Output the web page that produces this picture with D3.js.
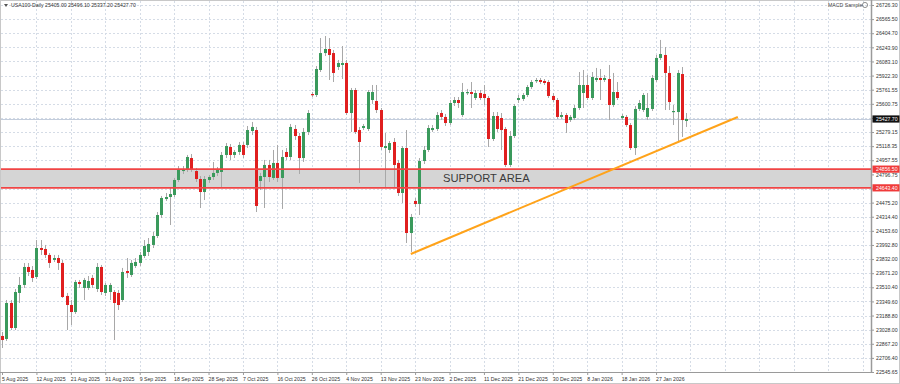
<!DOCTYPE html>
<html><head><meta charset="utf-8">
<script src="https://cdn.jsdelivr.net/npm/d3@7"></script>
<style>
body{margin:0;background:#fff}
svg{display:block;font-family:"Liberation Sans",Arial,sans-serif}
</style>
</head><body>
<svg id="c" width="900" height="384"></svg>
<script>
const symbolTitle = "USA100-Daily  25405.00 25496.10 25337.20 25427.70";
const indicatorTitle = "MACD Sample";
const opens = [22956,22922,23332,23047,23446,23537,23742,23708,23628,23958,23947,23879,23822,23844,23788,23412,23309,23229,23571,23503,
23503,23617,23491,23742,23446,23457,23457,23446,23366,23696,23651,23753,23788,23867,23913,23993,24095,24334,24516,24539,
24562,24733,24835,24847,24983,24835,24744,24596,24733,24767,24813,24824,25018,25109,25018,25052,25132,25132,25291,25302,
24722,24767,24904,24756,24927,24756,25052,24995,25314,25234,24983,25280,25712,25701,25986,26179,26225,26179,26020,26043,
26066,25496,25758,25302,25325,25314,25644,25633,25530,25097,25075,25166,24927,24585,25097,24129,24494,24460,24949,25075,
25302,25314,25496,25451,25382,25610,25644,25473,25724,25735,25667,25724,25713,25667,25200,25462,25439,25314,24904,25234,
25644,25656,25701,25792,25861,25872,25861,25849,25690,25644,25451,25473,25416,25439,25553,25724,25815,25667,25872,25895,
25872,25883,25587,25735,25439,25451,25359,25097,25542,25530,25451,25542,25872,26123,26157,25952,25507,25507,25940,25405];
const highs = [23001,23366,23366,23491,23628,23787,23787,23753,24049,24049,23993,23901,23879,23879,23822,23446,23366,23594,23594,23617,
23639,23651,23787,23765,23560,23560,23480,23480,23731,23844,23822,23844,23913,24049,24072,24141,24368,24551,24585,24642,
24756,24892,24892,25018,25029,24870,24778,24778,24790,24938,24881,25052,25154,25143,25075,25166,25166,25348,25394,25337,
24813,24961,24961,25075,25132,25075,25097,25371,25359,25268,25325,25530,25735,26031,26350,26373,26350,26214,26100,26259,
26100,25781,25781,25337,25371,25758,25815,25815,25553,25268,25177,25211,24961,25120,25302,24346,24528,24983,25120,25359,
25359,25507,25530,25485,25644,25678,25678,25838,25770,25849,25758,25758,25815,25690,25507,25507,25496,25337,25291,25599,
25701,25724,25815,25872,25895,25895,25883,25872,25724,25667,25507,25496,25473,25587,25963,25986,25929,25963,26009,25997,
25929,26043,25952,25849,25485,25473,25382,25576,25644,25724,25724,25929,26157,26328,26248,26031,25587,25986,26020,25496];
const lows = [22819,22899,23024,23024,23332,23503,23639,23571,23605,23879,23844,23731,23799,23708,23389,23024,23081,23207,23503,23366,
23480,23503,23457,23423,23412,23366,22910,23252,23343,23617,23628,23731,23753,23844,23867,23958,24072,24300,24494,24220,
24539,24710,24801,24824,24824,24710,24414,24505,24699,24733,24778,24642,24983,24961,24983,25018,24983,25097,25245,24368,
24619,24414,24710,24733,24710,24403,24961,24961,25189,24801,24938,25245,25678,25678,25963,26145,25872,25849,25986,25883,
25473,25280,25257,24699,25302,25291,25599,25496,25075,24642,25040,24642,24551,24471,24015,23913,24425,24334,24915,25052,
25280,25291,25416,25348,25359,25576,25553,25451,25701,25553,25644,25644,25587,25109,25177,25280,25075,24881,24881,25211,
25610,25633,25678,25770,25838,25826,25815,25667,25621,25428,25428,25268,25394,25416,25530,25553,25644,25644,25849,25644,
25849,25416,25564,25644,25416,25337,25075,25018,25519,25507,25416,25519,25849,26100,25530,25530,25359,25166,25223,25337];
const closes = [22910,23332,23047,23457,23537,23742,23685,23617,23958,23936,23879,23788,23844,23788,23400,23309,23229,23571,23548,23594,
23582,23537,23742,23457,23537,23537,23332,23309,23685,23674,23788,23799,23879,23981,24004,24095,24334,24528,24539,24573,
24733,24858,24858,24995,24858,24744,24596,24744,24767,24813,24847,25018,25120,25018,25052,25132,25018,25302,25337,24437,
24778,24904,24767,24927,24756,24995,24995,25337,25234,24983,25280,25496,25701,25997,26179,26225,26157,25952,26066,26066,
25496,25758,25280,25166,25348,25735,25735,25530,25109,25120,25154,24904,24585,25097,24129,24311,24460,24949,25075,25325,
25325,25473,25451,25382,25610,25644,25610,25735,25735,25713,25724,25667,25667,25200,25462,25314,25302,24904,25234,25576,
25667,25701,25792,25849,25872,25849,25838,25690,25644,25451,25473,25382,25451,25553,25815,25815,25667,25906,25895,25872,
25895,25587,25735,25667,25462,25359,25097,25542,25610,25701,25553,25895,26123,26168,25952,25621,25519,25952,25416,25428];
const dateLabels = ["5 Aug 2025","12 Aug 2025","21 Aug 2025","31 Aug 2025","9 Sep 2025","18 Sep 2025","28 Sep 2025","7 Oct 2025","16 Oct 2025","26 Oct 2025",
"4 Nov 2025","13 Nov 2025","23 Nov 2025","2 Dec 2025","11 Dec 2025","21 Dec 2025","30 Dec 2025","8 Jan 2026","18 Jan 2026","27 Jan 2026"];
const barsPerLabel = 8;
const priceTicks = [26726.30,26565.50,26404.70,26243.90,26083.10,25922.30,25761.55,25600.75,25439.95,25279.15,25118.35,24957.55,24796.75,24635.95,
24475.20,24314.40,24153.60,23992.80,23832.00,23671.20,23510.40,23349.60,23188.80,23028.00,22867.20,22706.40,22545.65];
const supportLevels = [24856.50, 24643.40];
const supportLabel = "SUPPORT AREA";
const trendIdx = [95, 171];
const trendVal = [23890, 25451];
const bidPrice = 25427.70;
const totalSlots = 201;

const svg = d3.select("#c");
const P = {l:1, r:871, t:1, b:372};
const x = d3.scaleLinear().domain([0, 159]).range([2, 2 + 4.303*159]);
const y = d3.scaleLinear().domain([priceTicks[priceTicks.length-1], priceTicks[0]]).range([372, 5]);
const n = closes.length;

svg.append("rect").attr("x",0.5).attr("y",0.5).attr("width",899).attr("height",383).attr("fill","#fff").attr("stroke","#c8c8c8");

const clip = svg.append("defs").append("clipPath").attr("id","pc").append("rect")
  .attr("x",P.l).attr("y",P.t).attr("width",P.r-P.l).attr("height",P.b-P.t);

const g = svg.append("g").attr("clip-path","url(#pc)");

// grid
const vIdx = d3.range(0, totalSlots, barsPerLabel);
g.selectAll("line.vg").data(vIdx.slice(1)).join("line")
  .attr("x1",d=>Math.round(x(d))+0.5).attr("x2",d=>Math.round(x(d))+0.5)
  .attr("y1",P.t).attr("y2",P.b).attr("stroke","#d5dce6").attr("stroke-dasharray","2,2");
g.selectAll("line.hg").data(priceTicks).join("line")
  .attr("x1",P.l).attr("x2",P.r)
  .attr("y1",d=>Math.round(y(d))+0.5).attr("y2",d=>Math.round(y(d))+0.5)
  .attr("stroke","#d5dce6").attr("stroke-dasharray","2,2");

// support area
g.append("rect").attr("x",P.l).attr("width",P.r-P.l)
  .attr("y",y(supportLevels[0])).attr("height",y(supportLevels[1])-y(supportLevels[0]))
  .attr("fill","#d5d5d5");

// bid line
g.append("line").attr("x1",P.l).attr("x2",P.r).attr("y1",Math.round(y(bidPrice))+0.5).attr("y2",Math.round(y(bidPrice))+0.5)
  .attr("stroke","#c3cddc").attr("stroke-width",1);

// candles
const idx = d3.range(n);
g.selectAll("line.wick").data(idx).join("line")
  .attr("x1",i=>Math.round(x(i))+0.5).attr("x2",i=>Math.round(x(i))+0.5)
  .attr("y1",i=>y(highs[i])).attr("y2",i=>y(lows[i]))
  .attr("stroke","#a8a8a8").attr("stroke-width",1);
g.selectAll("rect.body").data(idx).join("rect")
  .attr("x",i=>Math.round(x(i))-1).attr("width",3)
  .attr("y",i=>y(Math.max(opens[i],closes[i])))
  .attr("height",i=>Math.max(1.2, Math.abs(y(opens[i])-y(closes[i]))))
  .attr("fill",i=>closes[i]>=opens[i]?"#3a9a5c":"#e01f1f");

// support lines
g.selectAll("line.sup").data(supportLevels).join("line")
  .attr("x1",P.l).attr("x2",P.r).attr("y1",d=>y(d)).attr("y2",d=>y(d))
  .attr("stroke","#f04545").attr("stroke-width",1.8);

// trend line
g.append("line").attr("x1",x(trendIdx[0])).attr("y1",y(trendVal[0]))
  .attr("x2",x(trendIdx[1])).attr("y2",y(trendVal[1]))
  .attr("stroke","#ffa31a").attr("stroke-width",2);

// label
g.append("text").attr("x",x(102.5)).attr("y",y((supportLevels[0]+supportLevels[1])/2)+4)
  .attr("font-size",11.2).attr("fill","#3a3a3a").text(supportLabel);

// axes frame
svg.append("line").attr("x1",P.r+0.5).attr("x2",P.r+0.5).attr("y1",0).attr("y2",P.b+1).attr("stroke","#9a9a9a").attr("stroke-width",1.5);
svg.append("line").attr("x1",0).attr("x2",P.r+1).attr("y1",P.b+0.5).attr("y2",P.b+0.5).attr("stroke","#9a9a9a");

// right axis
const ya = d3.axisRight(y).tickValues(priceTicks).tickSize(2).tickFormat(d3.format(".2f"));
const yg = svg.append("g").attr("transform",`translate(${P.r+1},0)`).call(ya);
yg.select(".domain").remove();
yg.selectAll("text").attr("font-size",5.2).attr("fill","#333").attr("x",4).attr("font-family","Liberation Sans, Arial, sans-serif");
yg.selectAll("line").attr("stroke","#999");

// bottom axis
const labelIdx = dateLabels.map((d,k)=>k*barsPerLabel);
const xa = d3.axisBottom(x).tickValues(labelIdx).tickSize(3).tickFormat((d,k)=>dateLabels[k]);
const xg = svg.append("g").attr("transform",`translate(0,${P.b})`).call(xa);
xg.select(".domain").remove();
xg.selectAll("text").attr("font-size",5.2).attr("fill","#333").attr("text-anchor","start").attr("dx",-0.5).attr("y",5)
  .attr("font-family","Liberation Sans, Arial, sans-serif");
xg.selectAll("line").attr("stroke","#999");

// price markers
function marker(v, bg){
  const yy = y(v);
  svg.append("rect").attr("x",P.r+1.5).attr("y",yy-3.6).attr("width",900-P.r-2).attr("height",7.2).attr("fill",bg);
  svg.append("text").attr("x",P.r+5).attr("y",yy+1.9).attr("font-size",5.2).attr("fill","#fff").text(d3.format(".2f")(v));
}
supportLevels.forEach(v=>marker(v,"#f03a3a"));
marker(bidPrice,"#111");

// header
svg.append("path").attr("d","M4,4 L8,4 L6,7 Z").attr("fill","#555");
svg.append("text").attr("x",11).attr("y",7).attr("font-size",5.2).attr("fill","#333").text(symbolTitle);
svg.append("text").attr("x",828).attr("y",7).attr("font-size",5.2).attr("fill","#444").text(indicatorTitle);
svg.append("circle").attr("cx",865).attr("cy",5).attr("r",2.6).attr("fill","none").attr("stroke","#666").attr("stroke-width",0.7);
</script>
</body></html>
